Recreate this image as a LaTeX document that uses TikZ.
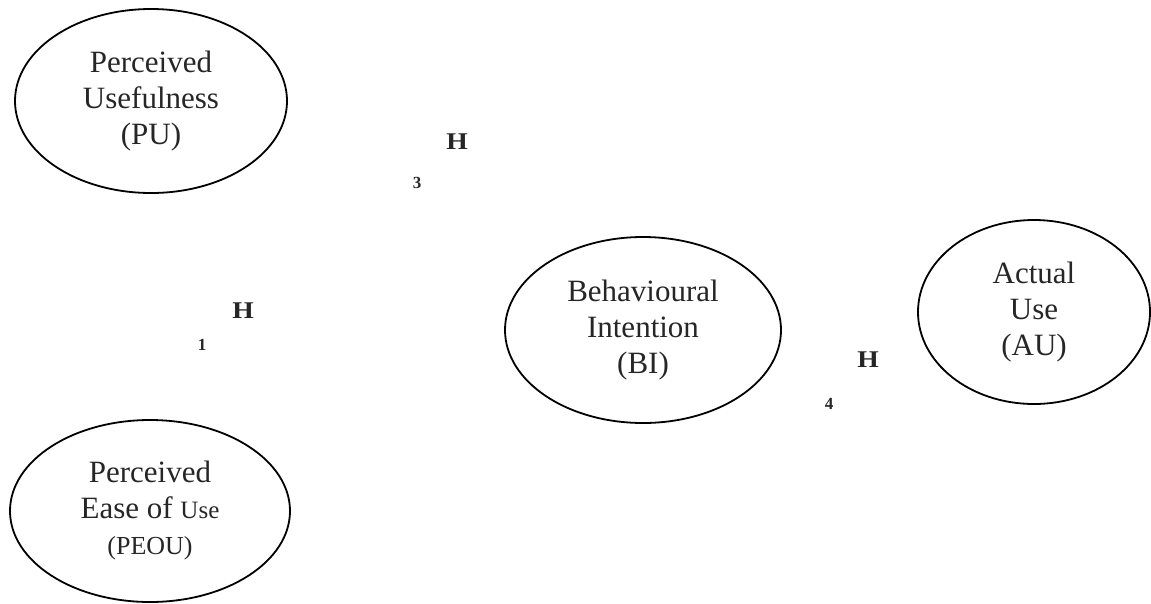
\documentclass[tikz,border=0pt]{standalone}
\usepackage{fontspec}
\setmainfont{Liberation Serif}
\usetikzlibrary{shapes.geometric}
\tikzset{
  construct/.style={draw=black, line width=1.8pt, ellipse, inner sep=0pt,
    align=center, text=black!85, font=\fontsize{31}{36}\selectfont},
  hlabel/.style={inner sep=0pt, text=black!85, font=\fontsize{24}{24}\selectfont\bfseries, xscale=1.15},
  hnum/.style={inner sep=0pt, text=black!85, font=\fontsize{17}{17}\selectfont\bfseries}
}
\begin{document}
\begin{tikzpicture}[x=1pt,y=-1pt]
\useasboundingbox (0,0) rectangle (1151,603);
\node[construct, minimum width=272pt, minimum height=184pt] (pu) at (151,101)
  {Perceived\\Usefulness\\(PU)};
\node[construct, minimum width=280pt, minimum height=182pt] (peou) at (150,511)
  {Perceived\\Ease of {\fontsize{25}{36}\selectfont Use}\\{\fontsize{26}{36}\selectfont (PEOU)}};
\node[construct, minimum width=276pt, minimum height=186pt] (bi) at (643,330)
  {Behavioural\\Intention\\(BI)};
\node[construct, minimum width=232pt, minimum height=184pt] (au) at (1034,312)
  {Actual\\Use\\(AU)};
\node[hlabel] (h3) at (457,142) {H};
\node[hnum] (n3) at (417,183) {3};
\node[hlabel] (h1) at (243,311) {H};
\node[hnum] (n1) at (202,345) {1};
\node[hlabel] (h4) at (868,360) {H};
\node[hnum] (n4) at (829,404) {4};
\end{tikzpicture}
\end{document}
